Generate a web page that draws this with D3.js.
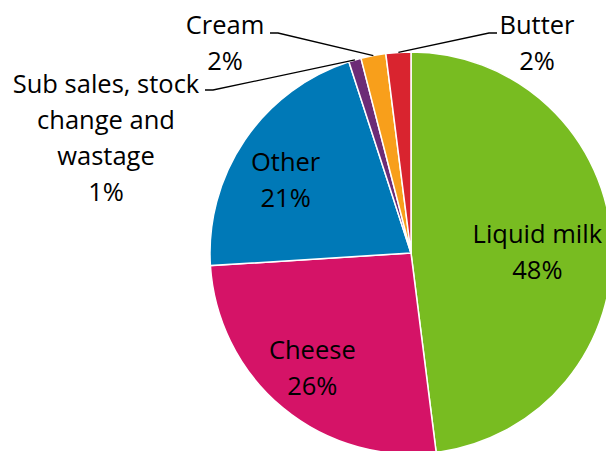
<!DOCTYPE html>
<html>
<head>
<meta charset="utf-8">
<script src="https://cdn.jsdelivr.net/npm/d3@7"></script>
<style>
  body { margin: 0; background: #fff; }
  svg { display: block; }
  text { font-family: "Open Sans", "Noto Sans", sans-serif; fill: #000; }
</style>
</head>
<body>
<svg id="chart" width="606" height="451"></svg>
<script>
// milk use shares, clockwise from 12 o'clock
var categories = ['Liquid milk', 'Cheese', 'Other', 'Sub sales, stock change and wastage', 'Cream', 'Butter']
var shares = [48, 26, 21, 1, 2, 2]
var colours = ['#78bc21', '#d51367', '#0079b7', '#6c2c76', '#f89f1b', '#d9242f']

// how each label is broken into lines
var labelLines = {
  'Liquid milk': ['Liquid milk'],
  'Cheese': ['Cheese'],
  'Other': ['Other'],
  'Sub sales, stock change and wastage': ['Sub sales, stock', 'change and', 'wastage'],
  'Cream': ['Cream'],
  'Butter': ['Butter']
}

var width = 606
var height = 451
var cx = 411
var cy = 253
var radius = 201
var lineH = 36

var svg = d3.select('#chart')

var data = categories.map(function (c, i) {
  return { name: c, value: shares[i], colour: colours[i] }
})

var pie = d3.pie()
  .sort(null)
  .value(function (d) { return d.value })

var arcs = pie(data)

var arc = d3.arc().innerRadius(0).outerRadius(radius)
var edge = d3.arc().innerRadius(radius).outerRadius(radius)

var g = svg.append('g').attr('transform', 'translate(' + cx + ',' + cy + ')')

g.selectAll('path')
  .data(arcs)
  .enter()
  .append('path')
  .attr('d', arc)
  .attr('fill', function (d) { return d.data.colour })
  .attr('stroke', '#fff')
  .attr('stroke-width', 1.5)

// labels inside the slices: [radius factor, dx, dy]
var inside = {
  'Liquid milk': [0.63, 0, 7],
  'Cheese': [0.7, -9, 7],
  'Other': [0.7, -9, 6]
}

// labels outside with leader lines: text centre x, first line y, elbow end x, elbow y, elbow start x
var outside = {
  'Sub sales, stock change and wastage': { x: 106, y: 84, ex: 213, ey: 90, sx: 205 },
  'Cream': { x: 225, y: 25, ex: 278, ey: 33, sx: 270 },
  'Butter': { x: 537, y: 25, ex: 489, ey: 33, sx: 497 }
}

function pct (d) { return d.data.value + '%' }

arcs.forEach(function (d) {
  var lines = labelLines[d.data.name].concat([pct(d)])
  var tx, ty
  if (inside[d.data.name]) {
    var f = inside[d.data.name]
    var la = d3.arc().innerRadius(radius * f[0]).outerRadius(radius * f[0])
    var c = la.centroid(d)
    tx = cx + c[0] + f[1]
    ty = cy + c[1] + f[2] - (lines.length - 1) * lineH / 2
  } else {
    var o = outside[d.data.name]
    tx = o.x
    ty = o.y
    var p = edge.centroid(d)
    svg.append('polyline')
      .attr('points', [[o.sx, o.ey], [o.ex, o.ey], [cx + p[0], cy + p[1]]].join(' '))
      .attr('fill', 'none')
      .attr('stroke', '#000')
      .attr('stroke-width', 1.3)
  }
  var t = svg.append('text')
    .attr('text-anchor', 'middle')
    .attr('font-size', 25.5)
  lines.forEach(function (s, i) {
    t.append('tspan')
      .attr('x', tx)
      .attr('y', ty + i * lineH)
      .attr('dy', '0.35em')
      .text(s)
  })
})
</script>
</body>
</html>
